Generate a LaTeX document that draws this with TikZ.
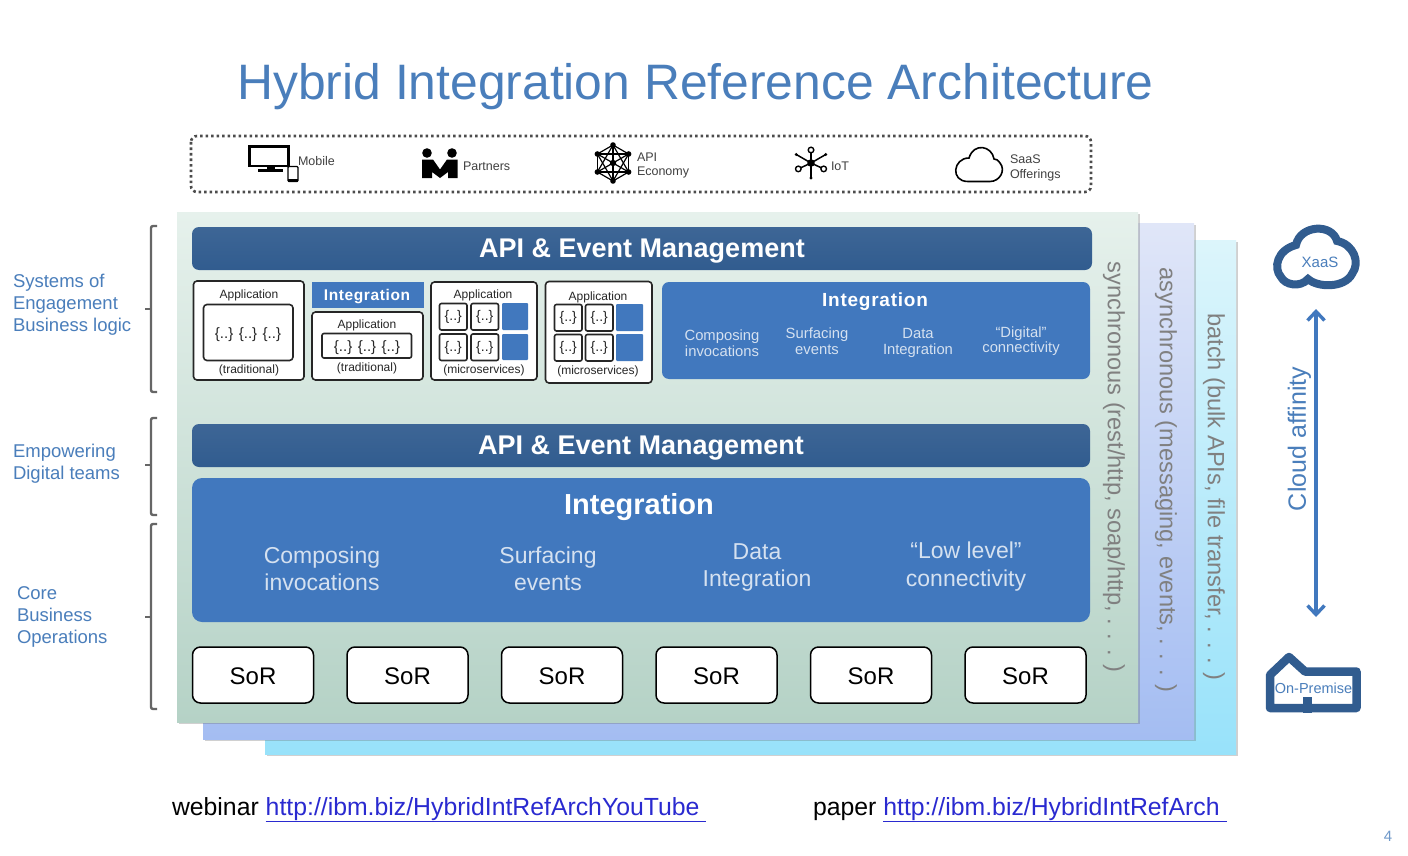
\documentclass[tikz,border=0pt]{standalone}
\usepackage{fontspec}
\setmainfont{Liberation Sans}
\usetikzlibrary{arrows.meta,shadows}
\definecolor{navy}{HTML}{315C8F}
\definecolor{midblue}{HTML}{4178BE}
\definecolor{titleblue}{HTML}{4A7EBB}
\definecolor{softwhite}{HTML}{D5E1F0}
\definecolor{lnk}{HTML}{2A2AD0}
\definecolor{backtop}{HTML}{DCF5FB}
\definecolor{backbot}{HTML}{98E2FA}
\definecolor{midtop}{HTML}{E0E6F8}
\definecolor{midbot}{HTML}{A4BDF2}
\definecolor{fronttop}{HTML}{E6F1EC}
\definecolor{frontbot}{HTML}{B5D2C6}
\newcommand{\fs}[2]{\fontsize{#1}{#2}\selectfont}
\tikzset{
  every node/.style={inner sep=0pt,outer sep=0pt,align=center},
  panelshadow/.style={drop shadow={shadow xshift=1.5pt,shadow yshift=-2pt,opacity=.3,fill=black!60}},
  bandbox/.style={rounded corners=7pt,top color=navy!94!white,bottom color=navy},
  intbox/.style={rounded corners=7pt,fill=midblue},
  appbox/.style={draw=black!85,line width=1.6pt,fill=white,rounded corners=3.5pt},
  inbox/.style={draw=black!85,line width=1.6pt,fill=white,rounded corners=2pt},
  bluesq/.style={fill=midblue,rounded corners=1pt},
  sorbox/.style={draw=black,line width=1.5pt,fill=white,rounded corners=8pt},
  smalltxt/.style={text=black!85,font=\fs{12}{14}},
  toptxt/.style={text=black!75,font=\fs{12.5}{14}},
  bandtxt/.style={text=white,font=\fs{27}{30}\bfseries},
  lefttxt/.style={text=titleblue,anchor=west,align=left,font=\fs{18.5}{22}},
  sidetxt/.style={text=black!50,rotate=-90,font=\fs{23.6}{26}},
  inttxt/.style={text=softwhite,font=\fs{14.8}{15.5}},
  bigtxt/.style={text=softwhite,font=\fs{23}{27.5}},
  footertxt/.style={anchor=base west,font=\fs{24.8}{28}},
  bracket/.style={draw=black!60,line width=2.4pt,rounded corners=2pt},
  icon/.style={draw=black,line width=2.2pt,fill=none},
  icond/.style={fill=black},
}
\begin{document}
\begin{tikzpicture}[x=1pt,y=-1pt]
\useasboundingbox (0,0) rectangle (1408,856);
\fill[white] (0,0) rectangle (1408,856);

\node[text=titleblue,font=\fs{49.8}{54}] (title) at (695.5,87) {Hybrid Integration Reference Architecture};

% consumers strip
\draw[draw=black!70,line width=2.6pt,dash pattern=on 2.6pt off 2.9pt,rounded corners=6pt] (191,136) rectangle (1091,192);
% monitor
\draw[icon] (249.5,146.5) rectangle (288.5,166);
\draw[icon,line width=2.5pt] (258,170.5) -- (283,170.5);
\draw[icond] (267,166) rectangle (274,170);
\draw[draw=black,fill=white,line width=1.2pt,rounded corners=1pt] (288,166.5) rectangle (298,181.5);
\fill[black] (288,179) rectangle (298,182);
\node[toptxt,anchor=west] (mobile) at (298,161.5) {Mobile};
% partners
\fill[black] (427,153) circle (4.8);
\fill[black] (452,153) circle (4.8);
\fill[black] (422,159.5) -- (433,159.5) -- (440,169.5) -- (447,159.5) -- (457.5,159.5) -- (457.5,178) -- (448,178) -- (448,172) -- (440,178) -- (432,172) -- (432,178) -- (422,178) -- cycle;
\node[toptxt,anchor=west] (partners) at (463,166) {Partners};
% api network
\foreach \a in {30,90,...,330}{
  \fill[black] (613,163) ++(\a:18) circle (2.8);
  \draw[black,line width=1.2pt] (613,163) ++(\a:18) -- (613,163);
  \draw[black,line width=1.2pt] (613,163) ++(\a:18) -- ++(\a+120:18);
  \draw[black,line width=1.2pt] (613,163) ++(\a:18) -- ++(\a+150:31.2);
}
\fill[black] (613,163) circle (3.2);
\node[toptxt,anchor=west,align=left,font=\fs{12.5}{14}] (apieco) at (637,165) {API\\Economy};
% iot
\foreach \a/\r in {90/15,-150/17,-30/17}{\draw[black,line width=1.5pt] (811,163) -- ++(\a:\r);\fill[black] (811,163) ++(\a:\r) circle (1.6);}
\foreach \a/\r in {-90/13,155/14,25/14}{\draw[black,line width=1.5pt] (811,163) -- ++(\a:\r);\draw[black,fill=white,line width=1.4pt] (811,163) ++(\a:\r) circle (2.8);}
\fill[black] (811,163) circle (3.8);
\node[toptxt,anchor=west] (iot) at (831,166) {IoT};
% simple cloud
\draw[black,line width=1.6pt] (968,181.5) -- (990,181.5) .. controls (1000,181.5) and (1006,170) .. (1000,163) .. controls (998,160) and (996,159) .. (994,159) .. controls (992,146) and (974,142) .. (969,158) .. controls (953,158) and (950,181.5) .. (968,181.5) -- cycle;
\node[toptxt,anchor=west,align=left,font=\fs{12.5}{15.5}] (saas) at (1010,168) {SaaS\\Offerings};

% stacked panels
\path[panelshadow,top color=backtop,bottom color=backbot] (265,240) rectangle (1236,754);
\path[panelshadow,top color=midtop,bottom color=midbot] (203,223) rectangle (1194,739);
\path[panelshadow,top color=fronttop,bottom color=frontbot] (177,212) rectangle (1138,722);

% side text
\node[sidetxt] (sync) at (1114,467) {synchronous (rest/http, soap/http, . . . )};
\node[sidetxt] (async) at (1166,480) {asynchronous (messaging, events, . . . )};
\node[sidetxt] (batch) at (1214,497) {batch (bulk APIs, file transfer, . . . )};

% top band
\path[bandbox] (192,227) rectangle (1092,270);
\node[bandtxt] (api1) at (642,251.5) {API \& Event Management};

% applications
\draw[appbox] (193.5,281) rectangle (304,380);
\draw[appbox] (203.5,304.5) rectangle (293,360.5);
\node[smalltxt] (a1t) at (249,295.5) {Application};
\node[text=black!85,font=\fs{15}{17}] (a1c) at (248,334.5) {\{..\} \{..\} \{..\}};
\node[smalltxt] (a1b) at (249,370) {(traditional)};

\fill[midblue] (312,282) rectangle (424,308);
\node[text=white,font=\fs{15.5}{17}\bfseries\addfontfeature{LetterSpace=4}] (a2i) at (367,297) {Integration};
\draw[appbox] (312,312) rectangle (423,380);
\draw[inbox] (322,333.5) rectangle (411.5,358);
\node[smalltxt] (a2t) at (367,325) {Application};
\node[text=black!85,font=\fs{15}{17}] (a2c) at (367,347.5) {\{..\} \{..\} \{..\}};
\node[smalltxt] (a2b) at (367,368) {(traditional)};

\draw[appbox] (431,282) rectangle (537,380);
\node[smalltxt] (a3t) at (483,295) {Application};
\foreach \x in {439.5,471}{\foreach \y in {303.5,334}{
  \draw[inbox] (\x,\y) rectangle ++(27.5,26.5);
  \node[text=black!85,font=\fs{14}{16}] at (\x+13.75,\y+13.5) {\{..\}};
}}
\path[bluesq] (502,303) rectangle (528,330);
\path[bluesq] (502,334) rectangle (528,360);
\node[smalltxt] (a3b) at (484,370) {(microservices)};

\draw[appbox] (545.5,281.5) rectangle (652,383);
\node[smalltxt] (a4t) at (598,297) {Application};
\foreach \x in {554.5,585.5}{\foreach \y in {304.5,334.5}{
  \draw[inbox] (\x,\y) rectangle ++(27.5,26.5);
  \node[text=black!85,font=\fs{14}{16}] at (\x+13.75,\y+13.5) {\{..\}};
}}
\path[bluesq] (616,304) rectangle (643,331);
\path[bluesq] (616,334) rectangle (643,361);
\node[smalltxt] (a4b) at (598,371) {(microservices)};

% integration small
\path[intbox] (662,282) rectangle (1090,379);
\node[text=white,font=\fs{19}{21}\bfseries\addfontfeature{LetterSpace=4}] (int1) at (875,301.5) {Integration};
\node[inttxt] (c1) at (722,343) {Composing\\invocations};
\node[inttxt] (c2) at (817,341) {Surfacing\\events};
\node[inttxt] (c3) at (918,343) {Data\\Integration};
\node[inttxt] (c4) at (1021,341) {“Digital”\\connectivity};

% second band
\path[bandbox] (192,424) rectangle (1090,467);
\node[bandtxt] (api2) at (641,448.5) {API \& Event Management};

% big integration
\path[intbox,rounded corners=10pt] (192,478) rectangle (1090,622);
\node[text=white,font=\fs{29}{32}\bfseries] (int2) at (639,507) {Integration};
\node[bigtxt] (d1) at (322,569) {Composing\\invocations};
\node[bigtxt] (d2) at (548,569) {Surfacing\\events};
\node[bigtxt] (d3) at (757,567.5) {Data\\Integration};
\node[bigtxt] (d4) at (966,566.5) {“Low level”\\connectivity};

% SoR
\foreach \n/\x in {1/192.5,2/347,3/501.5,4/656,5/810.5,6/965}{
  \draw[sorbox] (\x,647) rectangle ++(121,56);
  \node[text=black,font=\fs{24}{28}] (sor\n) at (\x+60.5,676) {SoR};
}

% left labels
\draw[bracket] (157,226) -- (151,226) -- (151,392) -- (157,392);
\draw[bracket] (151,309) -- (145,309);
\draw[bracket] (157,418) -- (151,418) -- (151,515) -- (157,515);
\draw[bracket] (151,465) -- (145,465);
\draw[bracket] (157,524) -- (151,524) -- (151,709) -- (157,709);
\draw[bracket] (151,617) -- (145,617);
\node[lefttxt] (l1) at (13,304.5) {Systems of\\Engagement\\Business logic};
\node[lefttxt] (l2) at (13,464) {Empowering\\Digital teams};
\node[lefttxt] (l3) at (17,617) {Core\\Business\\Operations};

% cloud affinity
\draw[navy,line width=8pt,fill=white] (1308,279) .. controls (1300,288) and (1285,285) .. (1281,277) .. controls (1273,268) and (1277,250) .. (1296,245) .. controls (1300,225) and (1332,223) .. (1337,241) .. controls (1353,244) and (1361,262) .. (1352,274) .. controls (1345,288) and (1318,288) .. (1308,279) -- cycle;
\node[text=titleblue,font=\fs{15}{17}] (xaas) at (1320,262) {XaaS};
\coordinate (up) at (1316,309);
\coordinate (down) at (1316,617);
\draw[midblue,line width=3.6pt,{Straight Barb[length=9pt,width=17pt,line width=3.4pt]}-{Straight Barb[length=9pt,width=17pt,line width=3.4pt]}] (up) -- (down);
\node[text=titleblue,rotate=90,font=\fs{25}{27}] (affinity) at (1299.5,439) {Cloud affinity};
\draw[navy,line width=8.5pt,line join=round,fill=white] (1270,708) -- (1270,675) -- (1289,657) -- (1305,671.5) -- (1356.5,671.5) -- (1356.5,708) -- cycle;
\fill[navy] (1303,697) rectangle (1312,713);
\node[text=titleblue,font=\fs{14.5}{17}] (onprem) at (1313.5,688) {On-Premise};

% footer
\node[footertxt] (web) at (172,815) {webinar \textcolor{lnk}{\underline{http://ibm.biz/HybridIntRefArchYouTube\ }}};
\node[footertxt] (paper) at (813,815) {paper \textcolor{lnk}{\underline{http://ibm.biz/HybridIntRefArch\ }}};
\node[text=titleblue!80,font=\fs{15}{17}] (pg) at (1388,836) {4};
\end{tikzpicture}
\end{document}
